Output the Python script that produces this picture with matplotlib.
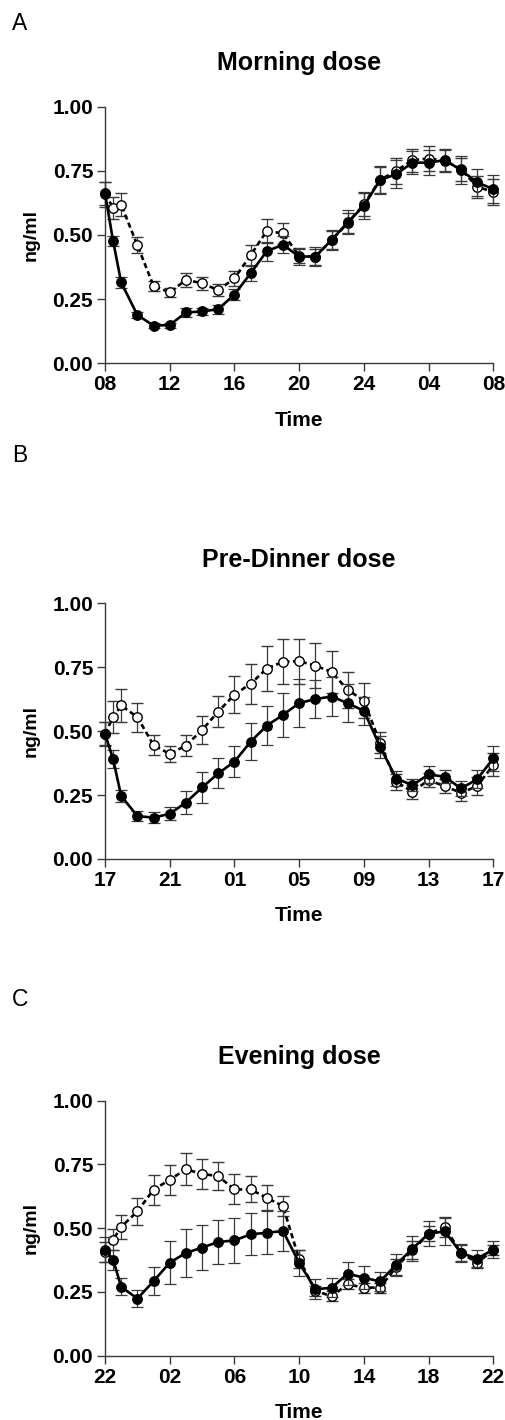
import matplotlib
matplotlib.use("Agg")
import matplotlib.pyplot as plt

# sampling times, hours after the dose (every 30 min first, then hourly)
hours = [0, 0.5, 1, 2, 3, 4, 5, 6, 7, 8, 9, 10, 11, 12,
         13, 14, 15, 16, 17, 18, 19, 20, 21, 22, 23, 24]

# --- A: morning dose ---------------------------------------------------------
a_ticks = ["08", "12", "16", "20", "24", "04", "08"]
a_filled = [0.663, 0.477, 0.315, 0.188, 0.147, 0.149, 0.198, 0.202, 0.211, 0.268,
            0.351, 0.437, 0.462, 0.416, 0.416, 0.480, 0.549, 0.614, 0.714, 0.737,
            0.782, 0.782, 0.792, 0.753, 0.705, 0.679]
a_filled_err = [0.045, 0.02, 0.02, 0.01, 0.01, 0.01, 0.016, 0.015, 0.017, 0.022,
                0.032, 0.037, 0.034, 0.031, 0.037, 0.038, 0.047, 0.053, 0.056, 0.055,
                0.045, 0.05, 0.041, 0.056, 0.052, 0.054]
a_open = [0.659, 0.607, 0.618, 0.460, 0.302, 0.276, 0.325, 0.312, 0.285, 0.331,
          0.421, 0.516, 0.506, 0.419, 0.415, 0.480, 0.546, 0.620, 0.715, 0.750,
          0.792, 0.798, 0.790, 0.756, 0.688, 0.668]
a_open_err = [0.048, 0.043, 0.044, 0.031, 0.02, 0.016, 0.027, 0.025, 0.023, 0.029,
              0.04, 0.047, 0.042, 0.03, 0.03, 0.035, 0.04, 0.045, 0.05, 0.05,
              0.045, 0.05, 0.045, 0.045, 0.043, 0.05]

# --- B: pre-dinner dose ------------------------------------------------------
b_ticks = ["17", "21", "01", "05", "09", "13", "17"]
b_filled = [0.490, 0.391, 0.247, 0.168, 0.162, 0.177, 0.221, 0.280, 0.335, 0.381,
            0.459, 0.522, 0.564, 0.610, 0.626, 0.636, 0.610, 0.580, 0.440, 0.315,
            0.289, 0.331, 0.322, 0.276, 0.312, 0.394]
b_filled_err = [0.048, 0.036, 0.024, 0.02, 0.02, 0.025, 0.044, 0.059, 0.059, 0.062,
                0.072, 0.077, 0.085, 0.093, 0.073, 0.075, 0.073, 0.054, 0.043, 0.03,
                0.024, 0.033, 0.026, 0.031, 0.035, 0.05]
b_open = [0.490, 0.555, 0.601, 0.555, 0.446, 0.411, 0.444, 0.505, 0.577, 0.643,
          0.686, 0.745, 0.772, 0.774, 0.757, 0.732, 0.662, 0.620, 0.455, 0.302,
          0.263, 0.309, 0.285, 0.259, 0.285, 0.368]
b_open_err = [0.045, 0.062, 0.065, 0.057, 0.039, 0.033, 0.042, 0.054, 0.062, 0.073,
              0.078, 0.088, 0.088, 0.088, 0.088, 0.084, 0.07, 0.07, 0.041, 0.03,
              0.027, 0.027, 0.027, 0.031, 0.035, 0.045]

# --- C: evening dose ---------------------------------------------------------
c_ticks = ["22", "02", "06", "10", "14", "18", "22"]
c_filled = [0.416, 0.377, 0.270, 0.224, 0.292, 0.365, 0.403, 0.424, 0.446, 0.452,
            0.476, 0.482, 0.489, 0.364, 0.261, 0.266, 0.322, 0.306, 0.291, 0.357,
            0.420, 0.478, 0.488, 0.403, 0.381, 0.416]
c_filled_err = [0.048, 0.039, 0.033, 0.034, 0.055, 0.085, 0.093, 0.087, 0.088, 0.087,
                0.083, 0.085, 0.078, 0.051, 0.038, 0.037, 0.046, 0.045, 0.039, 0.043,
                0.05, 0.049, 0.052, 0.036, 0.034, 0.033]
c_open = [0.407, 0.455, 0.505, 0.566, 0.651, 0.690, 0.731, 0.713, 0.704, 0.652,
          0.652, 0.619, 0.587, 0.378, 0.255, 0.233, 0.280, 0.267, 0.267, 0.348,
          0.413, 0.478, 0.505, 0.403, 0.365, 0.413]
c_open_err = [0.04, 0.042, 0.048, 0.052, 0.059, 0.059, 0.062, 0.059, 0.055, 0.059,
              0.051, 0.049, 0.041, 0.036, 0.02, 0.02, 0.02, 0.02, 0.02, 0.03,
              0.035, 0.03, 0.04, 0.03, 0.023, 0.02]

panels = [
    ("A", "Morning dose", a_ticks, a_filled, a_filled_err, a_open, a_open_err),
    ("B", "Pre-Dinner dose", b_ticks, b_filled, b_filled_err, b_open, b_open_err),
    ("C", "Evening dose", c_ticks, c_filled, c_filled_err, c_open, c_open_err),
]

W, H = 506, 1420
# axes boxes in pixels: left, top, right, bottom
boxes = [(105, 106.7, 493.3, 363.3), (105, 603.5, 493.3, 859.0), (105, 1100.7, 493.3, 1355.7)]
letter_y = [30, 462, 1006]

plt.rcParams["font.family"] = ["Liberation Sans", "DejaVu Sans"]
fig = plt.figure(figsize=(W / 100, H / 100), dpi=100)
AX = "#3a3a3a"

for (letter, title, ticks, yf, ef, yo, eo), box, ly in zip(panels, boxes, letter_y):
    l, t, r, b = box
    ax = fig.add_axes([l / W, 1 - b / H, (r - l) / W, (b - t) / H])

    ax.errorbar(hours, yo, yerr=eo, fmt="o", ls=(0, (2.0, 1.3)), lw=1.9, color="black",
                mfc="white", mec="black", mew=1.0, ms=6.8, ecolor=AX, elinewidth=0.9,
                capsize=4.5, capthick=0.9, clip_on=False, zorder=3)
    ax.errorbar(hours, yf, yerr=ef, fmt="o-", lw=1.9, color="black", ms=6.8,
                ecolor=AX, elinewidth=0.9, capsize=4.5, capthick=0.9,
                clip_on=False, zorder=4)

    ax.set_xlim(0, 24)
    ax.set_ylim(0, 1)
    ax.set_xticks([0, 4, 8, 12, 16, 20, 24])
    ax.set_xticklabels(ticks)
    ax.set_yticks([0, 0.25, 0.5, 0.75, 1.0])
    ax.set_yticklabels(["0.00", "0.25", "0.50", "0.75", "1.00"])
    for s in ("top", "right"):
        ax.spines[s].set_visible(False)
    for s in ("left", "bottom"):
        ax.spines[s].set_color(AX)
        ax.spines[s].set_linewidth(1.0)
    ax.tick_params(direction="out", length=5.5, width=1.0, color=AX,
                   labelsize=15, pad=3)
    for lab in ax.get_xticklabels() + ax.get_yticklabels():
        lab.set_fontweight("bold")
    ax.set_xlabel("Time", fontsize=15, fontweight="bold", labelpad=12)
    ax.set_ylabel("ng/ml", fontsize=14, fontweight="bold", labelpad=9)
    ax.set_title(title, fontsize=18, fontweight="bold", pad=26.5)

    fig.text(12 / W, 1 - ly / H, letter, fontsize=16.5, ha="left", va="baseline")

fig.savefig("out.png", dpi=100)
